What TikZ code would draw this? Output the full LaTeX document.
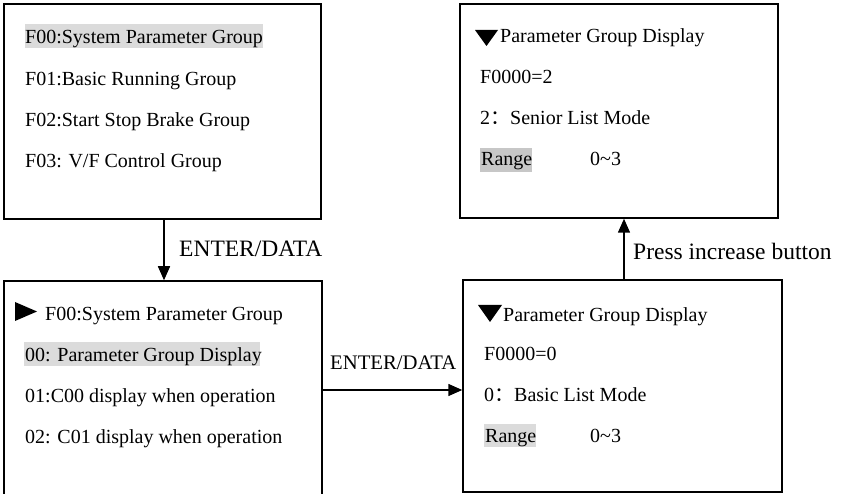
\documentclass[tikz,border=0pt]{standalone}
\usepackage{fontspec}
\setmainfont{Liberation Serif}
\newfontfamily\cjk{Noto Sans CJK SC}
\usetikzlibrary{arrows.meta}
\begin{document}
\begin{tikzpicture}[x=1pt,y=-1pt,
  panel/.style={draw,line width=1.5pt,rectangle,inner sep=0pt},
  txt/.style={anchor=base west,inner sep=0pt,font=\fontsize{20}{24}\selectfont},
  lbl/.style={anchor=base west,inner sep=0pt,font=\fontsize{23.5}{28}\selectfont},
  lblb/.style={anchor=base west,inner sep=0pt,font=\fontsize{20.7}{25}\selectfont},
  hl/.style={fill=black!14},
  hl2/.style={fill=black!22},
  arr/.style={line width=1.5pt,-{Triangle[length=14pt,width=12pt]}},
  tri/.style={fill=black}]
\useasboundingbox (0,0) rectangle (847,494);
% boxes
\node[panel,minimum width=317pt,minimum height=215pt] (b1) at (162.5,111.5) {};
\node[panel,minimum width=318pt,minimum height=218pt] (b2) at (163,390) {};
\node[panel,minimum width=318pt,minimum height=214pt] (b3) at (619,111) {};
\node[panel,minimum width=319pt,minimum height=212pt] (b4) at (622.5,386) {};
% box 1
\fill[hl] (25,24) rectangle (263,48);
\node[txt] (t11) at (25,44) {F00:System Parameter Group};
\node[txt] (t12) at (25,86) {F01:Basic Running Group};
\node[txt] (t13) at (25,127) {F02:Start Stop Brake Group};
\node[txt] (t14) at (25,168) {F03: V/F Control Group};
% box 2
\fill[tri] (15,302) -- (37,311.5) -- (15,321) -- cycle;
\node[txt] (t21) at (45,321) {F00:System Parameter Group};
\fill[hl] (24,342) rectangle (260,366);
\node[txt] (t22) at (25,362) {00: Parameter Group Display};
\node[txt] (t23) at (25,403) {01:C00 display when operation};
\node[txt] (t24) at (25,444) {02: C01 display when operation};
% box 3
\fill[tri] (475,30) -- (498,30) -- (486.5,46) -- cycle;
\node[txt] (t31) at (500,43) {Parameter Group Display};
\node[txt] (t32) at (480,84) {F0000=2};
\node[txt] (t33) at (480,125) {2{\cjk ：}Senior List Mode};
\fill[hl2] (480,148) rectangle (532,172);
\node[txt] (t34) at (481,166) {Range};
\node[txt] (t35) at (590,166) {0\textasciitilde3};
% box 4
\fill[tri] (478,305) -- (502,305) -- (490,322) -- cycle;
\node[txt] (t41) at (503,322) {Parameter Group Display};
\node[txt] (t42) at (484,361) {F0000=0};
\node[txt] (t43) at (484,402) {0{\cjk ：}Basic List Mode};
\fill[hl] (484,424) rectangle (536,447);
\node[txt] (t44) at (485,443) {Range};
\node[txt] (t45) at (590,443) {0\textasciitilde3};
% connectors
\coordinate (cx1) at (164,0);
\coordinate (cx2) at (624,0);
\coordinate (cy) at (0,390);
\draw[arr] (b1.south -| cx1) -- (b2.north -| cx1);
\node[lbl] (l1) at (179,257) {ENTER/DATA};
\draw[arr] (b2.east |- cy) -- (b4.west |- cy);
\node[lblb] (l2) at (330,370) {ENTER/DATA};
\draw[arr] (b4.north -| cx2) -- (b3.south -| cx2);
\node[lbl] (l3) at (633,260) {Press increase button};
\end{tikzpicture}
\end{document}
